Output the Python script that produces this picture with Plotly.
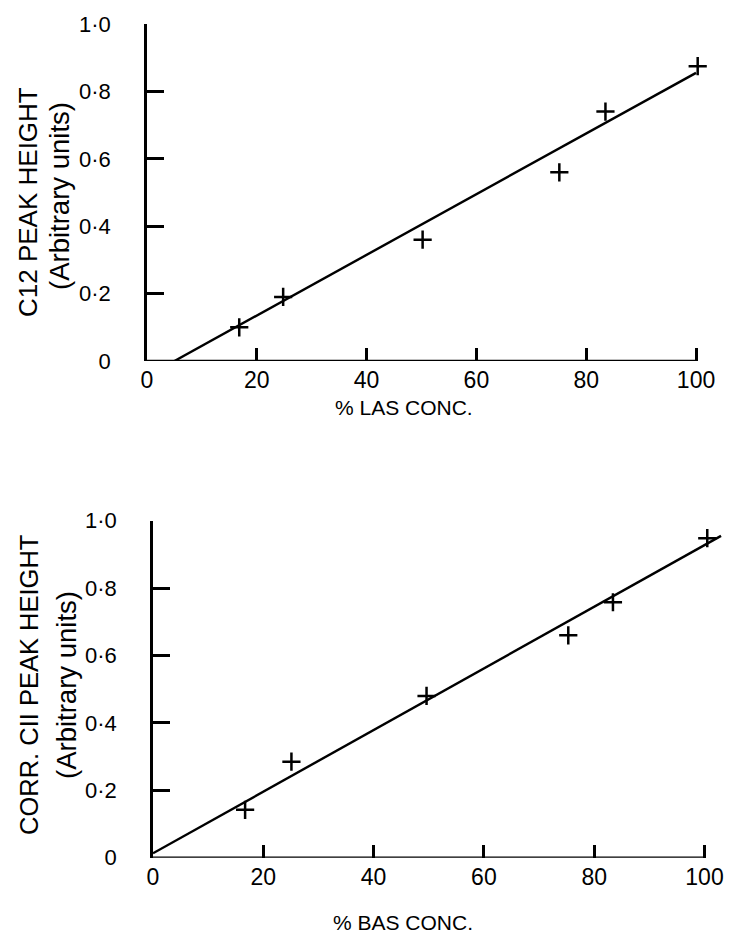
import plotly.graph_objects as go

# ---- data ----
las_x = [16.8, 24.8, 50.2, 75.1, 83.5, 100.3]
las_y = [0.10, 0.19, 0.36, 0.56, 0.74, 0.875]
las_fit_x = [5, 100]
las_fit_y = [0.0, 0.855]

bas_x = [16.7, 25.1, 49.6, 75.3, 83.4, 100.5]
bas_y = [0.142, 0.285, 0.48, 0.66, 0.758, 0.948]
bas_fit_x = [0, 103]
bas_fit_y = [0.013, 0.955]

x_ticks = [0, 20, 40, 60, 80, 100]
x_ticktext = ["0", "20", "40", "60", "80", "100"]
y_ticks = [0, 0.2, 0.4, 0.6, 0.8, 1.0]
y_ticktext = ["0", "0·2", "0·4", "0·6", "0·8", "1·0"]

# page body has an 8px margin; figure sized to fit the 732x943 window
OFF = 8
W, H = 732 - 2 * OFF, 943 - 2 * OFF
FONT = "Liberation Sans, Arial, sans-serif"

def px(x):
    return (x - OFF) / W

def py(y):
    return 1 - (y - OFF) / H

fig = go.Figure()

marker = dict(symbol="cross-thin", size=13, line=dict(width=2.5, color="black"), color="black")

fig.add_trace(go.Scatter(x=las_fit_x, y=las_fit_y, mode="lines",
                         line=dict(color="black", width=2.4), xaxis="x", yaxis="y",
                         showlegend=False, hoverinfo="skip"))
fig.add_trace(go.Scatter(x=las_x, y=las_y, mode="markers", marker=marker,
                         xaxis="x", yaxis="y", showlegend=False, cliponaxis=False))
fig.add_trace(go.Scatter(x=bas_fit_x, y=bas_fit_y, mode="lines",
                         line=dict(color="black", width=2.4), xaxis="x2", yaxis="y2",
                         showlegend=False, hoverinfo="skip"))
fig.add_trace(go.Scatter(x=bas_x, y=bas_y, mode="markers", marker=marker,
                         xaxis="x2", yaxis="y2", showlegend=False, cliponaxis=False))

def xax(domain, anchor, rng):
    return dict(domain=domain, anchor=anchor, range=rng, showgrid=False, zeroline=False,
                automargin=False, showline=False, ticks="inside", ticklen=13, tickwidth=2.5,
                tickcolor="black", tickvals=x_ticks, ticktext=x_ticktext, ticklabelstandoff=3,
                tickfont=dict(family=FONT, size=23, color="black"))

def yax(domain, anchor):
    return dict(domain=domain, anchor=anchor, range=[0, 1.0], showgrid=False, zeroline=False,
                automargin=False, showline=True, linewidth=2.5, linecolor="black",
                ticks="inside", ticklen=17, tickwidth=2.5, tickcolor="black",
                tickvals=y_ticks, ticktext=y_ticktext, ticklabelstandoff=29,
                tickfont=dict(family=FONT, size=22, color="black"))

fig.update_layout(
    width=W, height=H, margin=dict(l=0, r=0, t=0, b=0, autoexpand=False),
    paper_bgcolor="white", plot_bgcolor="white",
    xaxis=xax([px(147), px(718)], "y", [0, 104]),
    yaxis=yax([py(361), py(24)], "x"),
    xaxis2=xax([px(153), px(153 + 103.2 * 5.515)], "y2", [0, 103.2]),
    yaxis2=yax([py(857.7), py(520.7)], "x2"),
    shapes=[
        dict(type="line", xref="x", yref="y", x0=0, x1=100, y0=0, y1=0,
             line=dict(color="black", width=2.5)),
        dict(type="line", xref="x2", yref="y2", x0=0, x1=100, y0=0, y1=0,
             line=dict(color="black", width=2.5)),
    ],
)

def ann(text, x, y, size, angle=0):
    return dict(text=text, xref="paper", yref="paper", x=px(x), y=py(y),
                xanchor="center", yanchor="middle", showarrow=False, textangle=angle,
                font=dict(family=FONT, size=size, color="black"))

fig.update_layout(annotations=[
    ann("% LAS CONC.", 404, 407, 21),
    ann("% BAS CONC.", 403, 922, 21),
    ann("C12 PEAK HEIGHT", 28, 202, 26, -90),
    ann("(Arbitrary units)", 59, 196, 27.5, -90),
    ann("CORR. CII PEAK HEIGHT", 29, 685, 25.5, -90),
    ann("(Arbitrary units)", 66, 685, 27.5, -90),
])

fig.write_html("out.html")
